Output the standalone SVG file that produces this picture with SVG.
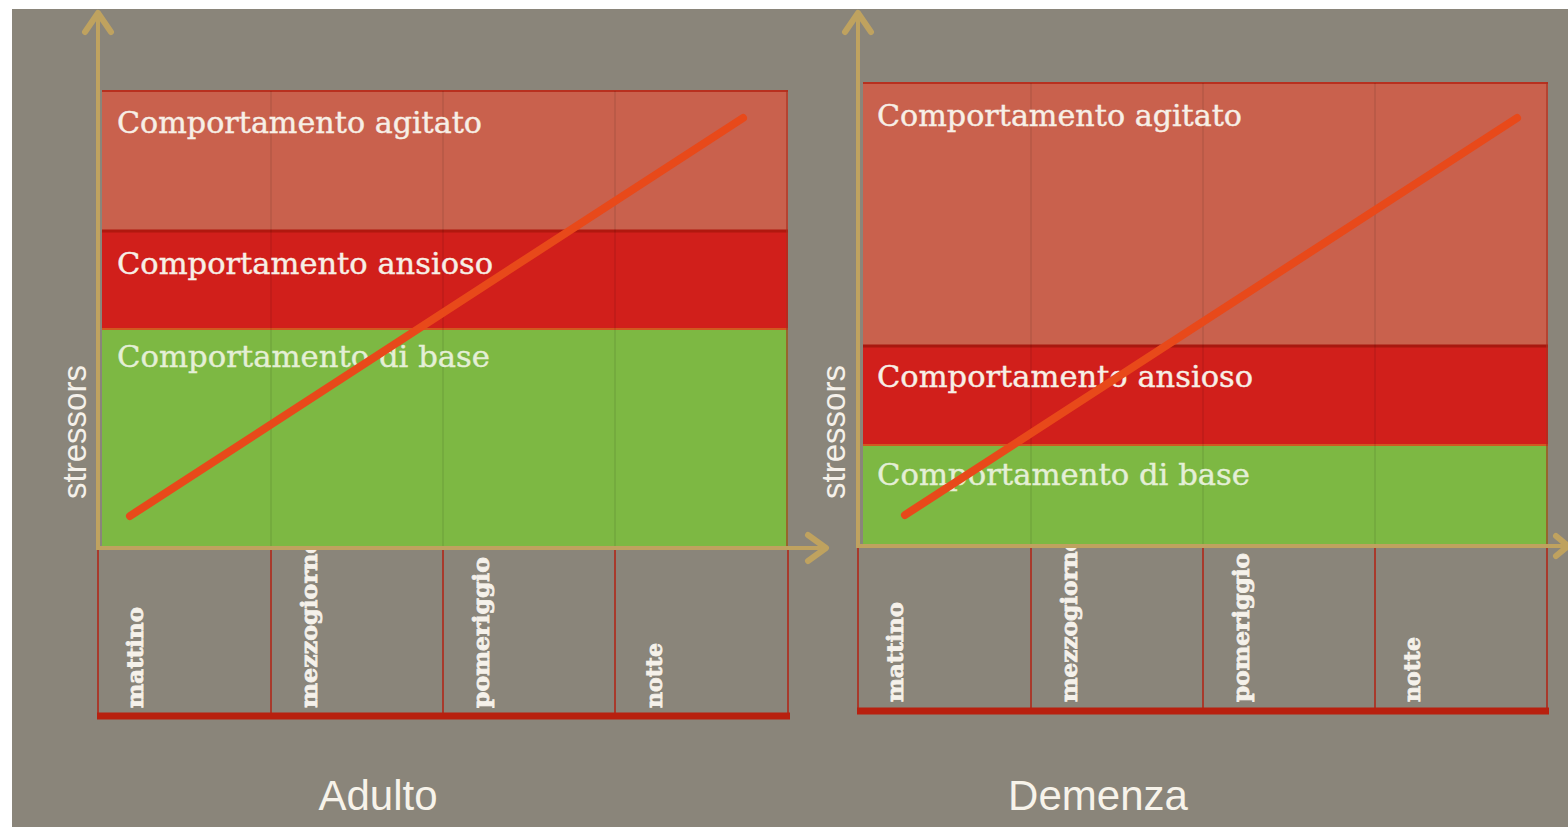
<svg xmlns="http://www.w3.org/2000/svg" width="1568" height="827" viewBox="0 0 1568 827">
<style>
.bg{fill:#8a857a}
.agi{fill:#c9614d}
.ans{fill:#d11f1b}
.base{fill:#7db843}
.div{stroke:#000;stroke-opacity:0.07;stroke-width:2}
.tbl{stroke:#a83a2c;stroke-width:2;fill:none}
.tblb{stroke:#b8200f;stroke-width:7}
.band{font-family:"DejaVu Serif","Liberation Serif",serif;font-size:30px;fill:#f7efe6;stroke:#f7efe6;stroke-width:0.4}
.bandg{font-family:"DejaVu Serif","Liberation Serif",serif;font-size:30px;fill:#e4efd6;stroke:#e4efd6;stroke-width:0.4}
.time{font-family:"DejaVu Serif","Liberation Serif",serif;font-size:22px;font-weight:bold;fill:#f5f1ea;stroke:#f5f1ea;stroke-width:0.8}
.ylab{font-family:"Liberation Sans",Arial,sans-serif;font-size:33px;fill:#f5f1ea}
.title{font-family:"Liberation Sans",Arial,sans-serif;font-size:42px;fill:#f7f3ea}
.axis{stroke:#bfa25f;stroke-width:4;fill:none}
.head{stroke:#bfa25f;stroke-width:6;fill:none;stroke-linecap:round;stroke-linejoin:round}
.trend{stroke:#e8491a;stroke-width:8;stroke-linecap:round}
</style>
<rect x="0" y="0" width="1568" height="827" fill="#ffffff"/>
<rect class="bg" x="12" y="9" width="1556" height="818"/>

<g id="chart-adulto">
  <g id="table-adulto">
    <text class="time" transform="translate(143,708) rotate(-90)" textLength="101" lengthAdjust="spacingAndGlyphs">mattino</text>
    <text class="time" transform="translate(317,708) rotate(-90)" textLength="170" lengthAdjust="spacingAndGlyphs">mezzogiorno</text>
    <text class="time" transform="translate(489,708) rotate(-90)" textLength="151" lengthAdjust="spacingAndGlyphs">pomeriggio</text>
    <text class="time" transform="translate(662,708) rotate(-90)" textLength="65" lengthAdjust="spacingAndGlyphs">notte</text>
    <path class="tbl" d="M98 550V714M271 550V714M443 550V714M615 550V714M788 550V714"/>
    <line class="tblb" x1="97" y1="716" x2="790" y2="716"/>
  </g>
  <g id="bands-adulto">
    <rect class="agi" x="102" y="90" width="686" height="140"/>
    <rect class="ans" x="102" y="230" width="686" height="99"/>
    <rect class="base" x="102" y="329" width="686" height="217"/>
    <line x1="102" y1="91" x2="788" y2="91" stroke="#b8301f" stroke-width="2"/>
    <line x1="102" y1="231" x2="788" y2="231" stroke="#b0180f" stroke-width="3"/>
    <line x1="102" y1="329" x2="788" y2="329" stroke="#d05a20" stroke-width="2"/>
    <line x1="787" y1="90" x2="787" y2="546" stroke="#a8301f" stroke-width="2" opacity="0.6"/>
    <path class="div" d="M271 91V546M443 91V546M615 91V546"/>
  </g>
  <text class="band" x="117" y="133" textLength="365" lengthAdjust="spacingAndGlyphs">Comportamento agitato</text>
  <text class="band" x="117" y="274" textLength="376" lengthAdjust="spacingAndGlyphs">Comportamento ansioso</text>
  <text class="bandg" x="117" y="367" textLength="373" lengthAdjust="spacingAndGlyphs">Comportamento di base</text>
  <text class="ylab" transform="translate(86,432) rotate(-90)" text-anchor="middle">stressors</text>
  <text class="title" x="378" y="810" text-anchor="middle">Adulto</text>
</g>

<g id="chart-demenza">
  <g id="table-demenza">
    <text class="time" transform="translate(903,702) rotate(-90)" textLength="100" lengthAdjust="spacingAndGlyphs">mattino</text>
    <text class="time" transform="translate(1077,702) rotate(-90)" textLength="166" lengthAdjust="spacingAndGlyphs">mezzogiorno</text>
    <text class="time" transform="translate(1249,702) rotate(-90)" textLength="149" lengthAdjust="spacingAndGlyphs">pomeriggio</text>
    <text class="time" transform="translate(1420,702) rotate(-90)" textLength="65" lengthAdjust="spacingAndGlyphs">notte</text>
    <path class="tbl" d="M858 548V709M1031 548V709M1203 548V709M1375 548V709M1547 548V709"/>
    <line class="tblb" x1="857" y1="711" x2="1549" y2="711"/>
  </g>
  <g id="bands-demenza">
    <rect class="agi" x="863" y="82" width="685" height="263"/>
    <rect class="ans" x="863" y="345" width="685" height="100"/>
    <rect class="base" x="863" y="445" width="685" height="99"/>
    <line x1="863" y1="83" x2="1548" y2="83" stroke="#b8301f" stroke-width="2"/>
    <line x1="863" y1="346" x2="1548" y2="346" stroke="#a8180f" stroke-width="3"/>
    <line x1="863" y1="445" x2="1548" y2="445" stroke="#d05a20" stroke-width="2"/>
    <line x1="1547" y1="82" x2="1547" y2="544" stroke="#a8301f" stroke-width="2" opacity="0.6"/>
    <path class="div" d="M1031 83V544M1203 83V544M1375 83V544"/>
  </g>
  <text class="band" x="877" y="126" textLength="365" lengthAdjust="spacingAndGlyphs">Comportamento agitato</text>
  <text class="band" x="877" y="387" textLength="376" lengthAdjust="spacingAndGlyphs">Comportamento ansioso</text>
  <text class="bandg" x="877" y="485" textLength="373" lengthAdjust="spacingAndGlyphs">Comportamento di base</text>
  <text class="ylab" transform="translate(845,432) rotate(-90)" text-anchor="middle">stressors</text>
  <text class="title" x="1098" y="810" text-anchor="middle">Demenza</text>
</g>

<g id="connectors">
  <line class="axis" x1="98" y1="550" x2="98" y2="12"/>
  <polyline class="head" points="85,32 98,13 111,32"/>
  <line class="axis" x1="96" y1="548" x2="826" y2="548"/>
  <polyline class="head" points="808,535 826,548 808,561"/>
  <line class="axis" x1="858" y1="548" x2="858" y2="12"/>
  <polyline class="head" points="845,32 858,13 871,32"/>
  <line class="axis" x1="856" y1="546" x2="1568" y2="546"/>
  <polyline class="head" points="1556,536 1568,546 1556,556"/>
  <line class="trend" x1="130" y1="516" x2="743" y2="118"/>
  <line class="trend" x1="905" y1="515" x2="1517" y2="118"/>
</g>
</svg>
